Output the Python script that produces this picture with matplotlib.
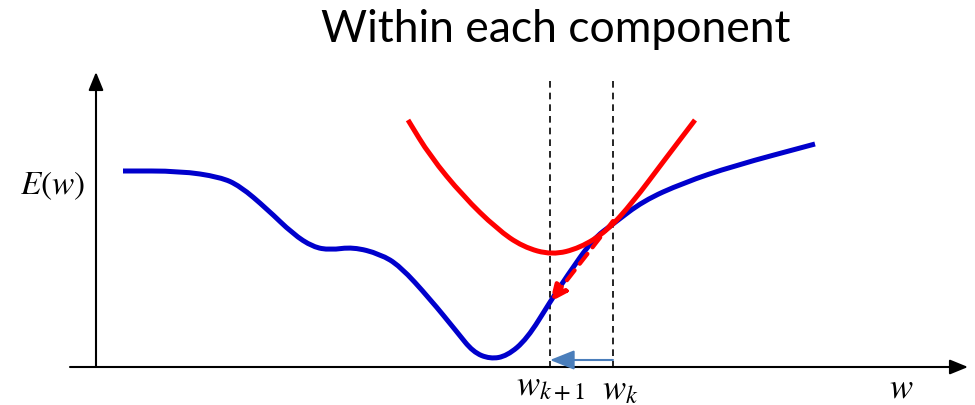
import numpy as np
import matplotlib.pyplot as plt
from matplotlib.path import Path
from matplotlib.patches import PathPatch

plt.rcParams["mathtext.fontset"] = "stix"

# error surface E(w), sampled along w (screen units, y grows downward)
blue_w = [123, 180, 220, 240, 267, 293, 313, 330, 353, 380, 400, 430, 457,
          473, 490, 507, 527, 550, 567, 593, 613, 643, 683, 733, 815]
blue_e = [172, 172, 178, 187, 210, 235, 248, 251, 248, 255, 267, 300, 333,
          353, 360, 357, 340, 303, 277, 240, 225, 202, 184, 167, 145]

# quadratic upper bound touching E(w) at w_k
red_w = [408, 430, 463, 497, 523, 552, 580, 607, 633, 663, 695]
red_e = [121, 157, 197, 230, 248, 256, 249, 232, 203, 163, 121]

w_k = 613
w_k1 = 550
e_at_wk = 222
e_at_wk1 = 303

x_axis_y = 368
y_axis_x = 96


def smooth_curve(ax, xs, ys, **kw):
    # quadratic Bezier through the midpoints, sample points act as controls
    pts = np.column_stack([xs, ys]).astype(float)
    mids = (pts[:-1] + pts[1:]) / 2
    verts = [pts[0], mids[0]]
    codes = [Path.MOVETO, Path.LINETO]
    for i in range(1, len(pts) - 1):
        verts += [pts[i], mids[i]]
        codes += [Path.CURVE3, Path.CURVE3]
    verts.append(pts[-1])
    codes.append(Path.LINETO)
    patch = PathPatch(Path(verts, codes), fill=False, capstyle="butt", **kw)
    ax.add_patch(patch)


fig = plt.figure(figsize=(9.75, 4.06), dpi=100)
ax = fig.add_axes([0, 0, 1, 1])
ax.set_xlim(0, 975)
ax.set_ylim(406, 0)
ax.axis("off")

# axes with arrow heads
ax.annotate("", xy=(968, x_axis_y), xytext=(70, x_axis_y),
            arrowprops=dict(arrowstyle="-|>,head_length=1.1,head_width=0.45",
                            color="black", lw=1.5, shrinkA=0, shrinkB=0))
ax.annotate("", xy=(y_axis_x, 73), xytext=(y_axis_x, x_axis_y),
            arrowprops=dict(arrowstyle="-|>,head_length=1.1,head_width=0.45",
                            color="black", lw=1.5, shrinkA=0, shrinkB=0))

# vertical guides at the two iterates
for wx in (w_k1, w_k):
    ax.plot([wx, wx], [82, x_axis_y], color="black", lw=1.2,
            linestyle=(0, (4, 3)))

smooth_curve(ax, blue_w, blue_e, edgecolor="#0000cc", lw=3.6, zorder=2)
smooth_curve(ax, red_w, red_e, edgecolor="#ff0000", lw=3.6, zorder=3)

# step taken along the bound
ax.annotate("", xy=(w_k1, e_at_wk1), xytext=(w_k, e_at_wk),
            arrowprops=dict(arrowstyle="-|>,head_length=1.0,head_width=0.45",
                            color="#ff0000", lw=3, linestyle=(0, (3, 2)),
                            shrinkA=0, shrinkB=0),
            zorder=4)

# step along w
ax.annotate("", xy=(w_k1, 361), xytext=(w_k, 361),
            arrowprops=dict(arrowstyle="-|>,head_length=1.5,head_width=0.6",
                            color="#4a7ebb", lw=1.5, shrinkA=0, shrinkB=0))

ax.text(556, 30, "Within each component", fontsize=32, family="Lato",
        ha="center", va="center")
ax.text(53, 186, r"$E(w)$", fontsize=24, ha="center", va="center")
ax.text(551, 387, r"$w_{k+1}$", fontsize=25, ha="center", va="center")
ax.text(620, 389, r"$w_k$", fontsize=25, ha="center", va="center")
ax.text(901, 388, r"$w$", fontsize=25, ha="center", va="center")

fig.savefig("out.png", dpi=100)
